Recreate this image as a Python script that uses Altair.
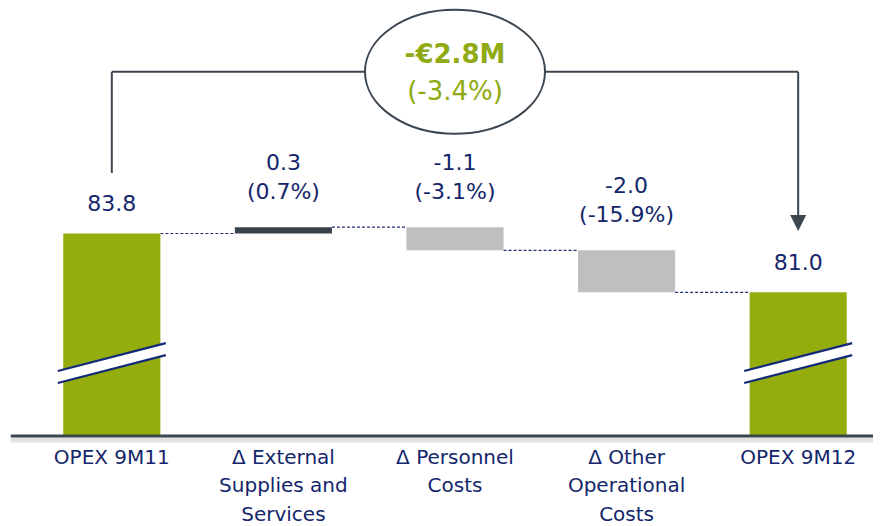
import altair as alt
import pandas as pd

# ---------------- data ----------------
categories = ["OPEX 9M11", "Δ External\nSupplies and\nServices", "Δ Personnel\nCosts",
              "Δ Other\nOperational\nCosts", "OPEX 9M12"]
values = [83.8, 0.3, -1.1, -2.0, 81.0]
kinds = ["total", "delta", "delta", "delta", "total"]
pct_labels = ["", "(0.7%)", "(-3.1%)", "(-15.9%)", ""]
total_change_label = "-€2.8M"
total_change_pct = "(-3.4%)"

# ---------------- layout / style ----------------
W, H = 865, 518
X_DOMAIN = [-0.605, 4.436]
Y_DOMAIN = [69.87, 94.54]
BASE = 74.16          # broken-axis baseline value
HALF = 0.283          # half bar width (in category steps)
BRACKET_Y = 91.5
LEFT_LEG_BOTTOM = 86.68
ARROW_SHAFT_END = 84.5
ARROW_HEAD_Y = 84.3
BREAK_Y = 77.63
SHADOW_Y = 73.97

GREEN = "#94ad0c"
DARK = "#37424a"
GRAY = "#bfbfbf"
NAVY = "#13266b"
LINE = "#3c4650"
TEXT_GREEN = "#8faa12"
FONT = "DejaVu Sans"

# ---------------- derived table ----------------
rows = []
running = None
for i, (c, v, k, p) in enumerate(zip(categories, values, kinds, pct_labels)):
    if k == "total":
        start, end = BASE, v
        running = v
        color = GREEN
        top = v
        label = f"{v:.1f}"
    else:
        start, end = running, running + v
        running = end
        color = DARK if v > 0 else GRAY
        top = max(start, end)
        label = f"{v:.1f}\n{p}"
    rows.append(dict(i=i, cat=c, kind=k, start=start, end=end, top=top, label=label,
                     color=color, xl=i - HALF, xr=i + HALF, base=BASE))
df = pd.DataFrame(rows)

conn = pd.DataFrame([dict(x=i + HALF, x2=i + 1 - HALF, y=df.loc[i, "end"]) for i in range(len(df) - 1)])

xs = alt.Scale(domain=X_DOMAIN, nice=False, zero=False)
ys = alt.Scale(domain=Y_DOMAIN, nice=False, zero=False)


def X(f, **kw):
    return alt.X(f, type="quantitative", scale=xs, axis=None, **kw)


def Y(f, **kw):
    return alt.Y(f, type="quantitative", scale=ys, axis=None, **kw)


# baseline shadow + baseline
base_df = pd.DataFrame([dict(x=X_DOMAIN[0] + 0.016, x2=X_DOMAIN[1], y=BASE, ys=SHADOW_Y)])
shadow = alt.Chart(base_df).mark_rule(color="#d9d9d9", strokeWidth=5, opacity=0.8).encode(
    x=X("x"), x2="x2", y=Y("ys"))
baseline = alt.Chart(base_df).mark_rule(color=LINE, strokeWidth=3).encode(
    x=X("x"), x2="x2", y=Y("y"))

connectors = alt.Chart(conn).mark_rule(color="#1f2d6e", strokeWidth=1.2, strokeDash=[3, 2]).encode(
    x=X("x"), x2="x2", y=Y("y"))

bars = alt.Chart(df).mark_bar().encode(
    x=X("xl"), x2="xr", y=Y("start"), y2="end",
    color=alt.Color("color:N", scale=None))

totals = df[df.kind == "total"].assign(by=BREAK_Y)
BREAK_FILL = "M-1,0.148L1,-0.37L1,-0.148L-1,0.37Z"
BREAK_LINES = "M-1,0.148L1,-0.37M-1,0.37L1,-0.148"
break_fill = alt.Chart(totals).mark_point(shape=BREAK_FILL, size=11664, filled=True, fill="white",
                                          strokeWidth=0, opacity=1).encode(x=X("i"), y=Y("by"))
break_lines = alt.Chart(totals).mark_point(shape=BREAK_LINES, size=11664, filled=False, stroke="#142a78",
                                           strokeWidth=2.2, opacity=1).encode(x=X("i"), y=Y("by"))

# bracket
first, last = 0, len(df) - 1
brk = pd.DataFrame([
    dict(x=first, x2=first, y=LEFT_LEG_BOTTOM, y2=BRACKET_Y),
    dict(x=first, x2=last, y=BRACKET_Y, y2=BRACKET_Y),
    dict(x=last, x2=last, y=BRACKET_Y, y2=ARROW_SHAFT_END),
])
bracket = alt.Chart(brk).mark_rule(color=LINE, strokeWidth=2).encode(
    x=X("x"), x2="x2", y=Y("y"), y2="y2")

ELLIPSE = "M-1,0A1,0.689,0,1,1,1,0A1,0.689,0,1,1,-1,0Z"
mid = pd.DataFrame([dict(x=(first + last) / 2, y=BRACKET_Y, t1=total_change_label, t2=total_change_pct)])
ellipse = alt.Chart(mid).mark_point(shape=ELLIPSE, size=32400, filled=True, fill="white",
                                    stroke=LINE, strokeWidth=2, opacity=1).encode(x=X("x"), y=Y("y"))
arrow_df = pd.DataFrame([dict(x=last, y=ARROW_HEAD_Y)])
arrow = alt.Chart(arrow_df).mark_point(shape="M-1,-1L1,-1L0,1Z", size=256, filled=True, fill=LINE,
                                       strokeWidth=0, opacity=1).encode(x=X("x"), y=Y("y"))

green1 = alt.Chart(mid).mark_text(font=FONT, fontSize=26, fontWeight="bold", color=TEXT_GREEN,
                                  baseline="alphabetic", dy=-8.5).encode(x=X("x"), y=Y("y"), text="t1")
green2 = alt.Chart(mid).mark_text(font=FONT, fontSize=26, color=TEXT_GREEN,
                                  baseline="alphabetic", dy=28).encode(x=X("x"), y=Y("y"), text="t2")

tot_labels = alt.Chart(df[df.kind == "total"]).mark_text(
    font=FONT, fontSize=22, color=NAVY, baseline="alphabetic", dy=-22.5).encode(
    x=X("i"), y=Y("top"), text="label")
delta_labels = alt.Chart(df[df.kind == "delta"]).mark_text(
    font=FONT, fontSize=22, color=NAVY, baseline="alphabetic", dy=-57, lineBreak="\n",
    lineHeight=29).encode(x=X("i"), y=Y("top"), text="label")

cat_labels = alt.Chart(df).mark_text(
    font=FONT, fontSize=20, color=NAVY, baseline="alphabetic", dy=28, lineBreak="\n",
    lineHeight=28.5).encode(x=X("i"), y=Y("base"), text="cat")

chart = alt.layer(
    shadow, connectors, bars, baseline, break_fill, break_lines,
    bracket, ellipse, arrow, green1, green2, tot_labels, delta_labels, cat_labels
).properties(
    width=W, height=H, autosize=alt.AutoSizeParams(type="none"), padding=0, background="white"
).configure_view(strokeWidth=0)

chart.save("out.html", embed_options={"renderer": "svg", "actions": False})
